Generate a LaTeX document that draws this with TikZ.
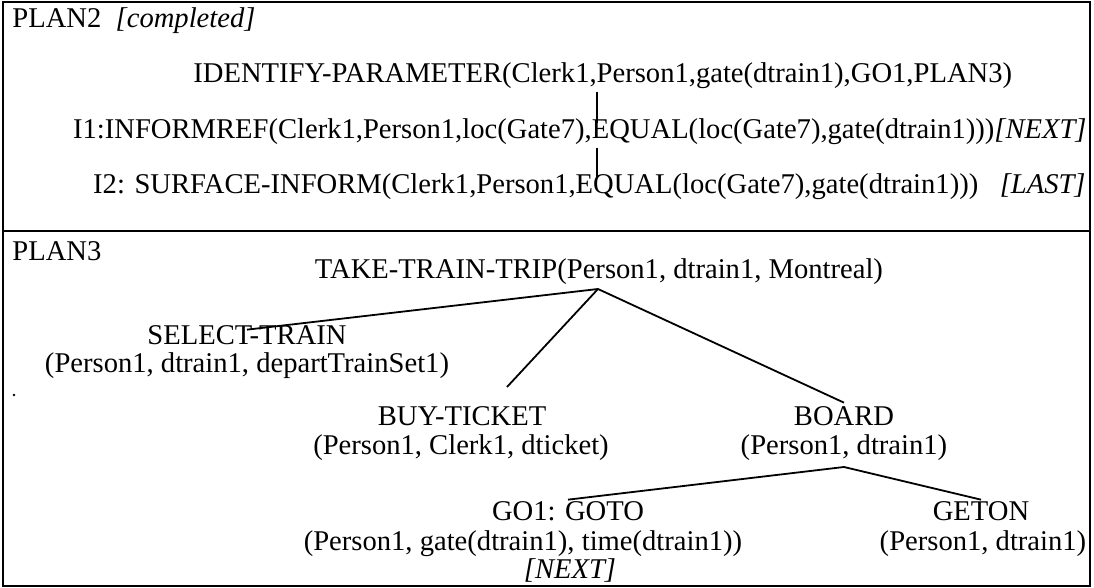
\documentclass[tikz,border=0pt]{standalone}
\usepackage{fontspec}
\setmainfont{Liberation Serif}
\begin{document}
\begin{tikzpicture}[x=0.5pt,y=-0.5pt,
  lbl/.style={inner sep=0pt, anchor=base, font=\fontsize{14.3}{16}\selectfont},
  edge/.style={line width=0.9pt},
  vedge/.style={line width=0.6pt},
  frame/.style={line width=0.8pt}]
\useasboundingbox (0,0) rectangle (1094,588);
\draw[frame] (3,2) rectangle (1090,586);
\draw[frame] (3,231) -- (1090,231);
% PLAN2
\node[lbl, anchor=base west] (p2) at (12,28) {PLAN2\ \ \textit{[completed]}};
\node[lbl, anchor=base west] (ip) at (193,83) {IDENTIFY-PARAMETER(Clerk1,Person1,gate(dtrain1),GO1,PLAN3)};
\node[lbl, anchor=base east] (i1) at (1087,139) {I1:INFORMREF(Clerk1,Person1,loc(Gate7),EQUAL(loc(Gate7),gate(dtrain1)))\textit{[NEXT]}};
\node[lbl, anchor=base east] (i2) at (1086,194) {I2: SURFACE-INFORM(Clerk1,Person1,EQUAL(loc(Gate7),gate(dtrain1)))\ \ \ \textit{[LAST]}};
\coordinate (v) at (597,0);
\draw[vedge] ([yshift=-1pt]ip.south -| v) -- ([yshift=-2pt]i1.north -| v);
\draw[vedge] ([yshift=-1pt]i1.south -| v) -- ([yshift=-2pt]i2.north -| v);
% PLAN3
\node[lbl, anchor=base west] (p3) at (12,261) {PLAN3};
\node[lbl] (ttt) at (599,279) {TAKE-TRAIN-TRIP(Person1, dtrain1, Montreal)};
\coordinate (r) at (598,289);
\node[lbl] (st) at (247,345) {SELECT-TRAIN};
\node[lbl] (stp) at (247,373) {(Person1, dtrain1, departTrainSet1)};
\node[lbl] (bt) at (462,426) {BUY-TICKET};
\node[lbl] (btp) at (461,455) {(Person1, Clerk1, dticket)};
\coordinate (btc) at (507,387);
\node[lbl] (bo) at (844,426) {BOARD};
\node[lbl] (bop) at (844,455) {(Person1, dtrain1)};
\coordinate (b) at (844,467);
\node[lbl] (go) at (568,521) {GO1: GOTO};
\node[lbl] (gop) at (523,551) {(Person1, gate(dtrain1), time(dtrain1))};
\node[lbl] (gon) at (570,579) {\textit{[NEXT]}};
\node[lbl] (ge) at (981,521) {GETON};
\node[lbl] (gep) at (983,551) {(Person1, dtrain1)};
\draw[edge] (r) -- ([yshift=-2pt]st.north);
\draw[edge] (r) -- (btc);
\draw[edge] (r) -- ([yshift=2pt]bo.north);
\draw[edge] (b) -- ([yshift=1pt]go.north);
\draw[edge] (b) -- ([yshift=1pt]ge.north);
\fill (14,395) circle (1.4);
\end{tikzpicture}
\end{document}
